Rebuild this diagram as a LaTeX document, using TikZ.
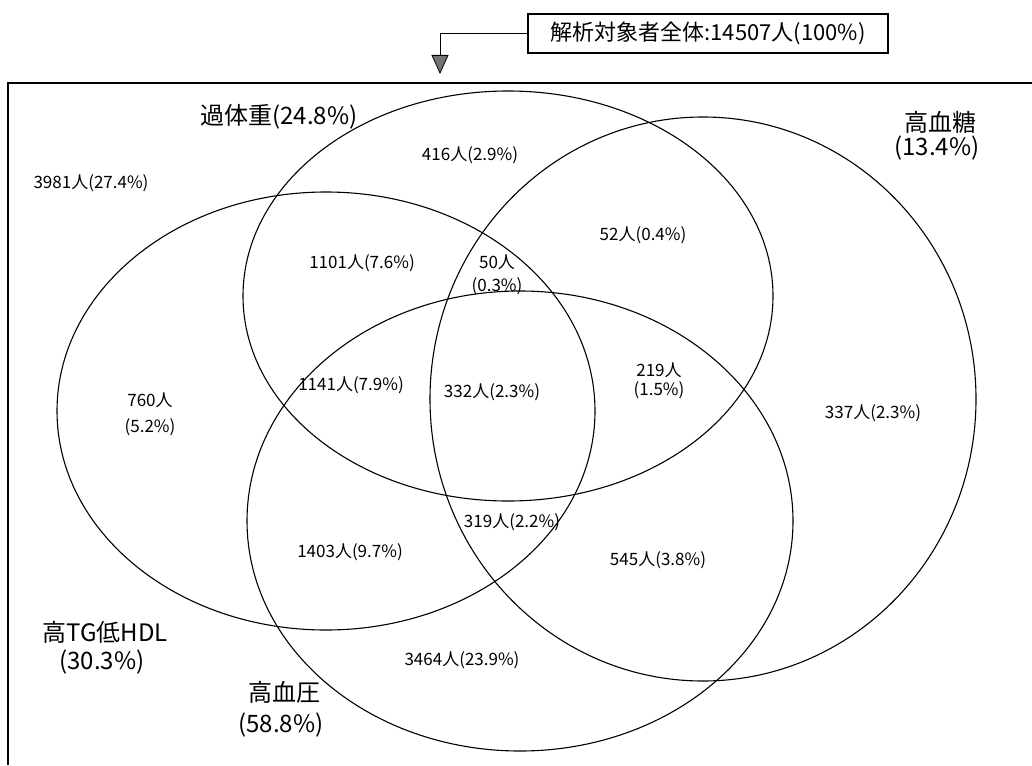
\documentclass[tikz,border=0pt]{standalone}
\usepackage{fontspec}
\setmainfont{Noto Sans CJK JP}
\usetikzlibrary{arrows.meta}
\begin{document}
\begin{tikzpicture}[x=1pt,y=-1pt,
  venn/.style={draw=black,line width=1.1pt},
  lbl/.style={inner sep=0pt,font=\fontsize{17}{19}\selectfont},
  big/.style={inner sep=0pt,font=\fontsize{24}{26}\selectfont},
  framelines/.style={draw=black,line width=1.6pt},
  totalbox/.style={draw=black,line width=1.3pt,minimum width=360pt,minimum height=39pt,inner sep=0pt,font=\fontsize{22}{24}\selectfont},
  pointer/.style={draw=black,line width=0.8pt,-{Triangle[width=17pt,length=19pt,fill=black!55]}}
]
\useasboundingbox (0,0) rectangle (1032,765);
% outer frame (left and top edges)
\draw[framelines] (8,765) -- (8,83) -- (1032,83);
% total box and pointer
\node[totalbox] (total) at (708,33.5) {解析対象者全体:14507人(100\%)};
\coordinate (tip) at (440,74);
\draw[pointer] (total.west) -| (tip);
% ellipses
\draw[venn] (508,296) ellipse [x radius=265pt, y radius=205pt]; % 過体重
\draw[venn] (703,399) ellipse [x radius=273pt, y radius=282pt]; % 高血糖
\draw[venn] (326,411) ellipse [x radius=269pt, y radius=219pt]; % 高TG低HDL
\draw[venn] (520,521) ellipse [x radius=273pt, y radius=230pt]; % 高血圧
% set labels
\node[big] (lA) at (279,117) {過体重(24.8\%)};
\node[big] (lB1) at (940,122) {高血糖};
\node[big] (lB2) at (937,148) {(13.4\%)};
\node[big] (lC1) at (105,632) {高TG低HDL};
\node[big] (lC2) at (102,662) {(30.3\%)};
\node[big] (lD1) at (284,692) {高血圧};
\node[big] (lD2) at (281,725) {(58.8\%)};
% region counts
\node[lbl] (r0) at (91,183) {3981人(27.4\%)};
\node[lbl] (rA) at (470,155) {416人(2.9\%)};
\node[lbl] (rAB) at (643,235) {52人(0.4\%)};
\node[lbl] (rAC) at (362,263) {1101人(7.6\%)};
\node[lbl] (rABCa) at (497,262) {50人};
\node[lbl] (rABCb) at (497,286) {(0.3\%)};
\node[lbl] (rCa) at (150,400) {760人};
\node[lbl] (rCb) at (150,427) {(5.2\%)};
\node[lbl] (rACD) at (351,385) {1141人(7.9\%)};
\node[lbl] (rABCD) at (492,392) {332人(2.3\%)};
\node[lbl] (rABDa) at (659,370) {219人};
\node[lbl] (rABDb) at (659,390) {(1.5\%)};
\node[lbl] (rB) at (873,413) {337人(2.3\%)};
\node[lbl] (rBCD) at (512,522) {319人(2.2\%)};
\node[lbl] (rCD) at (350,552) {1403人(9.7\%)};
\node[lbl] (rBD) at (658,560) {545人(3.8\%)};
\node[lbl] (rD) at (462,660) {3464人(23.9\%)};
\end{tikzpicture}
\end{document}
